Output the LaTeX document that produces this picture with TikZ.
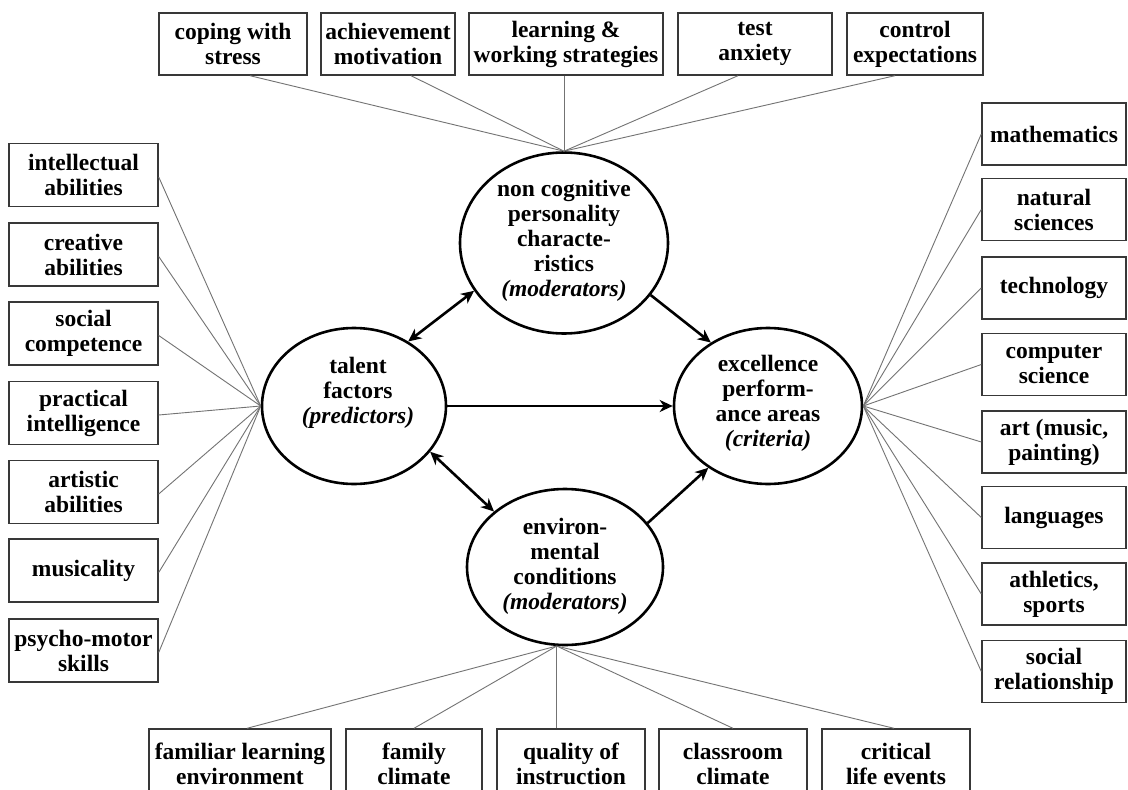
\documentclass[tikz,border=0pt]{standalone}
\usepackage{fontspec}
\setmainfont{Liberation Serif}
\usetikzlibrary{shapes.geometric,arrows.meta,calc}

\newcommand\boxfont{\fontsize{23.5}{25}\selectfont\bfseries}

\begin{document}
\begin{tikzpicture}[x=1pt,y=-1pt,
  box/.style={draw=black!78,line width=1.4pt,fill=white,inner sep=0pt,
    align=center,font=\boxfont,minimum height=62pt},
  oval/.style={ellipse,draw=black,line width=2.6pt,fill=white,inner sep=0pt},
  lbl/.style={align=center,font=\boxfont,inner sep=0pt},
  spoke/.style={draw=black!55,line width=0.9pt},
  tip/.tip={Stealth[length=13pt,width=12pt,inset=4pt]},
  rel/.style={line width=2.6pt,-tip},
  relboth/.style={line width=2.6pt,tip-tip}]

\useasboundingbox (0,0) rectangle (1128,790);
\fill[white] (0,0) rectangle (1128,790);
\clip (0,0) rectangle (1128,790);

% central constructs
\node[oval,minimum width=208pt,minimum height=181pt] (nc)  at (564,243) {};
\node[oval,minimum width=184pt,minimum height=156pt] (tal) at (354,406) {};
\node[oval,minimum width=188pt,minimum height=156pt] (exc) at (768,406) {};
\node[oval,minimum width=196pt,minimum height=156pt] (env) at (565,567) {};

\node[lbl] (ncT)  at (564,241) {non cognitive\\personality\\characte-\\ristics\\\textit{(moderators)}};
\node[lbl] (talT) at (358,393) {talent\\factors\\\textit{(predictors)}};
\node[lbl] (excT) at (768,403) {excellence\\perform-\\ance areas\\\textit{(criteria)}};
\node[lbl] (envT) at (565,566) {environ-\\mental\\conditions\\\textit{(moderators)}};

% non-cognitive personality characteristics
\node[box,minimum width=148pt] (t1) at (233,44) {coping with\\stress};
\node[box,minimum width=134pt] (t2) at (388,44) {achievement\\motivation};
\node[box,minimum width=194pt] (t3) at (566,44) {learning \&\\working strategies};
\node[box,minimum width=154pt] (t4) at (755,44) {test\\anxiety};
\node[box,minimum width=136pt] (t5) at (915,44) {control\\expectations};

% talent factors
\node[box,minimum width=149pt,minimum height=63pt] (l1) at (83.5,175)   {intellectual\\abilities};
\node[box,minimum width=149pt,minimum height=63pt] (l2) at (83.5,254.5) {creative\\abilities};
\node[box,minimum width=149pt,minimum height=63pt] (l3) at (83.5,333.5) {social\\competence};
\node[box,minimum width=149pt,minimum height=63pt] (l4) at (83.5,413)   {practical\\intelligence};
\node[box,minimum width=149pt,minimum height=63pt] (l5) at (83.5,492)   {artistic\\abilities};
\node[box,minimum width=149pt,minimum height=63pt] (l6) at (83.5,570.5) {musicality};
\node[box,minimum width=149pt,minimum height=63pt] (l7) at (83.5,650.5) {psycho-motor\\skills};

% performance areas
\node[box,minimum width=144pt] (r1) at (1054,134)   {mathematics};
\node[box,minimum width=144pt] (r2) at (1054,209.5) {natural\\sciences};
\node[box,minimum width=144pt] (r3) at (1054,288)   {technology};
\node[box,minimum width=144pt] (r4) at (1054,364.5) {computer\\science};
\node[box,minimum width=144pt] (r5) at (1054,442)   {art (music,\\painting)};
\node[box,minimum width=144pt] (r6) at (1054,517.5) {languages};
\node[box,minimum width=144pt] (r7) at (1054,594)   {athletics,\\sports};
\node[box,minimum width=144pt] (r8) at (1054,671.5) {social\\relationship};

% environmental conditions
\node[box,minimum width=182pt,minimum height=69pt] (b1) at (240,763.5) {familiar learning\\environment};
\node[box,minimum width=136pt,minimum height=69pt] (b2) at (414,763.5) {family\\climate};
\node[box,minimum width=148pt,minimum height=69pt] (b3) at (571,763.5) {quality of\\instruction};
\node[box,minimum width=148pt,minimum height=69pt] (b4) at (733,763.5) {classroom\\climate};
\node[box,minimum width=148pt,minimum height=69pt] (b5) at (896,763.5) {critical\\life events};

% spokes to the top ellipse
\draw[spoke] ($(t1.south)+(17,0)$) -- (nc.north);
\draw[spoke] ($(t2.south)+(23,0)$) -- (nc.north);
\draw[spoke] (nc.north |- t3.south) -- (nc.north);
\draw[spoke] ($(t4.south)+(-17,0)$) -- (nc.north);
\draw[spoke] ($(t5.south)+(-20,0)$) -- (nc.north);

% spokes to the talent ellipse
\foreach \b in {l1,l2,l3,l4,l5,l6,l7}
  \draw[spoke] ($(\b.east)+(0,2)$) -- (tal.west);

% spokes to the performance ellipse
\foreach \b in {r1,r2,r3,r4,r5,r6,r7,r8}
  \draw[spoke] (\b.west) -- (exc.east);

% spokes to the environment ellipse
\coordinate (eb) at (env.-96);
\draw[spoke] ($(b1.north)+(7,0)$) -- (eb);
\draw[spoke] (b2.north) -- (eb);
\draw[spoke] (eb |- b3.north) -- (eb);
\draw[spoke] (b4.north) -- (eb);
\draw[spoke] ($(b5.north)+(-2,0)$) -- (eb);

% relations between the constructs
\draw[relboth] (tal.50) -- (nc.208);
\draw[rel] (nc.-31) -- (exc.132);
\draw[rel] (tal.east) -- (exc.west);
\draw[relboth] (tal.-31) -- (env.142);
\draw[rel] (env.28) -- (exc.226);
\end{tikzpicture}
\end{document}
